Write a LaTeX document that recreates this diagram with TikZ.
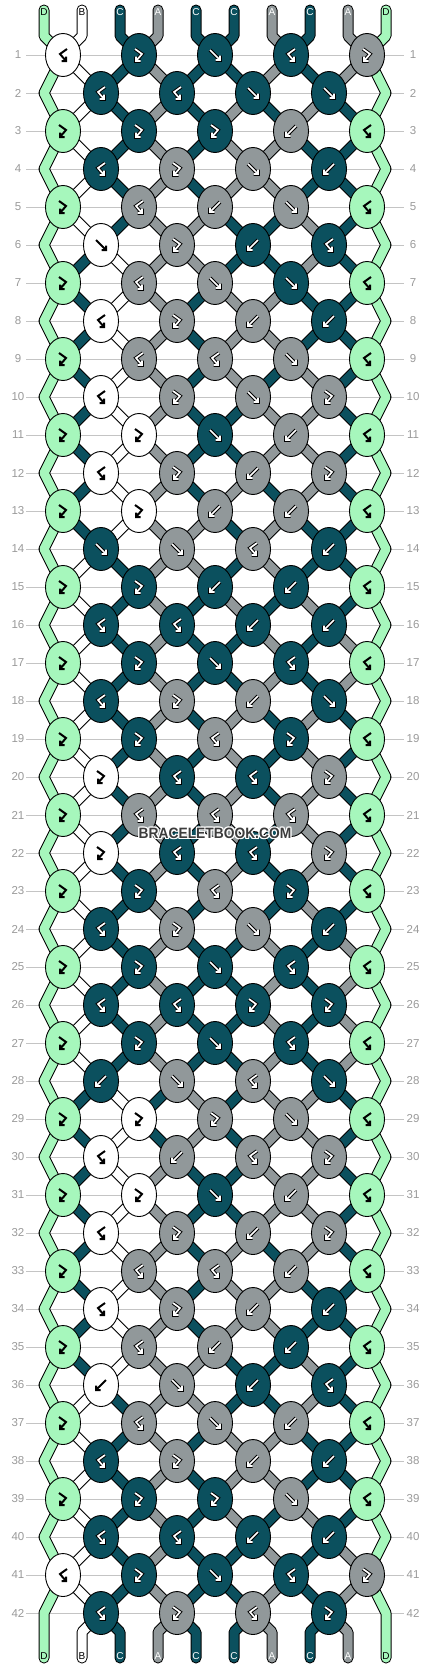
\documentclass[tikz,border=0pt]{standalone}
\usepackage{fontspec}
\setmainfont{Liberation Sans}
\usetikzlibrary{shapes.geometric}
\definecolor{cK}{HTML}{0B505E}
\definecolor{cA}{HTML}{91989A}
\definecolor{cG}{HTML}{A6F7BC}
\definecolor{cW}{HTML}{FFFFFF}
\definecolor{numgray}{HTML}{9A9A9A}
\definecolor{linegray}{HTML}{C4C4C4}
\definecolor{wmgray}{HTML}{3C3C3C}
\pgfdeclarelayer{bg}
\pgfdeclarelayer{mid}
\pgfsetlayers{bg,mid,main}
\def\rowdata{{B,F,f,B,F},{B,B,f,f},{F,F,F,b,B},{B,F,f,b},{F,B,b,f,B},{f,F,b,B},{F,B,f,f,B},{B,F,b,b},{F,B,B,f,B},{B,F,f,F},{F,F,f,b,B},{B,F,b,F},{F,F,b,b,B},{f,f,B,b},{F,F,b,b,B},{B,B,b,b},{F,F,f,B,B},{B,F,b,f},{F,F,B,F,B},{F,B,B,F},{F,B,B,B,B},{F,B,B,F},{F,F,B,F,B},{B,F,f,b},{F,F,f,B,B},{B,B,F,F},{F,F,f,B,B},{b,f,B,f},{F,F,F,f,B},{B,b,B,F},{F,F,f,b,B},{B,F,b,F},{F,B,B,b,B},{B,F,b,b},{F,B,b,b,B},{b,f,b,B},{F,B,f,b,B},{B,F,b,b},{F,F,F,f,B},{B,B,b,b},{B,F,f,B,F},{B,F,B,F}}
\def\initS{G,W,K,A,K,K,A,K,A,G}
\def\lettG{D}\def\lettW{B}\def\lettK{C}\def\lettA{A}
\def\txtG{black}\def\txtW{black}\def\txtK{white}\def\txtA{white}
\def\isdarkG{0}\def\isdarkW{0}\def\isdarkK{1}\def\isdarkA{1}
\tikzset{
 knot/.style={ellipse, draw=black, line width=0.9pt, minimum width=35pt, minimum height=43pt, inner sep=0pt},
 gout/.style={draw=black, line width=3.6pt, line cap=square, line join=miter},
 gin/.style={draw=white, line width=1.7pt, line cap=square, line join=miter},
 gblk/.style={draw=black, line width=2pt, line cap=butt, line join=miter},
 sout/.style={draw=black, line width=11pt, line cap=round, line join=round},
 sin/.style={line width=9pt, line cap=round, line join=round},
 hline/.style={draw=linegray, line width=1pt},
 num/.style={font=\fontsize{11.5}{12}\selectfont, text=numgray, inner sep=0pt},
 lbl/.style={font=\fontsize{10}{11}\selectfont, inner sep=0pt},
 wmstyle/.style={font=\bfseries\fontsize{15}{16}\selectfont, inner sep=0pt},
}
\newcommand\wmtext{\scalebox{0.92}[1]{BRACELETBOOK.COM}}
\newcommand\gpf[1]{\draw[#1] (-5,-5) -- (5,5) (0.5,5) -- (5,5) -- (5,0.5);}
\newcommand\gpb[1]{\draw[#1] (5,-5) -- (-5,5) (-0.5,5) -- (-5,5) -- (-5,0.5);}
\newcommand\gpF[1]{\draw[#1] (-4,-6) -- (3,-1) -- (-3,6) (-3,1.5) -- (-3,6) -- (1.5,6);}
\newcommand\gpB[1]{\draw[#1] (4,-6) -- (-3,-1) -- (3,6) (3,1.5) -- (3,6) -- (-1.5,6);}
\newcommand\drawglyph[4]{%
 \begin{scope}[shift={(#2,#3)}]
   \ifnum#4=1
     \csname gp#1\endcsname{gout}
     \csname gp#1\endcsname{gin}
   \else
     \csname gp#1\endcsname{gblk}
   \fi
 \end{scope}}
\begin{document}
\begin{tikzpicture}[x=1pt,y=-1pt]
\useasboundingbox (0,0) rectangle (430,1668);
\begin{pgfonlayer}{bg}
\fill[white] (0,0) rectangle (430,1668);
\end{pgfonlayer}
% initial state and end coordinates
\foreach \cc [count=\i from 0] in \initS {%
  \expandafter\xdef\csname S\i\endcsname{\cc}%
  \expandafter\xdef\csname st-0-\i\endcsname{\cc}%
  \pgfmathsetmacro\xx{44+38*\i}
  \coordinate (top-\i) at (\xx,10);
  \coordinate (tb-\i) at (\xx,36);
  \coordinate (bb-\i) at (\xx,1632);
  \coordinate (bot-\i) at (\xx,1658);
}
% simulate rows, draw knots
\foreach \rd [count=\rw] in \rowdata {
  \pgfmathtruncatemacro\off{mod(\rw+1,2)}
  \pgfmathsetmacro\yy{55+38*(\rw-1)}
  \foreach \ty [count=\k] in \rd {
    \pgfmathtruncatemacro\ii{\off+2*(\k-1)}
    \pgfmathtruncatemacro\jj{\ii+1}
    \pgfmathsetmacro\xx{63+38*\off+76*(\k-1)}
    \edef\lc{\csname S\ii\endcsname}
    \edef\rc{\csname S\jj\endcsname}
    \if f\ty \edef\kc{\lc}\fi
    \if F\ty \edef\kc{\lc}\fi
    \if b\ty \edef\kc{\rc}\fi
    \if B\ty \edef\kc{\rc}\fi
    \node[knot, fill=c\kc] (n-\rw-\k) at (\xx,\yy) {};
    \drawglyph{\ty}{\xx}{\yy}{\csname isdark\kc\endcsname}
    \if f\ty \expandafter\xdef\csname S\ii\endcsname{\rc}\expandafter\xdef\csname S\jj\endcsname{\lc}\fi
    \if b\ty \expandafter\xdef\csname S\ii\endcsname{\rc}\expandafter\xdef\csname S\jj\endcsname{\lc}\fi
  }
  \foreach \i in {0,...,9} {\expandafter\xdef\csname st-\rw-\i\endcsname{\csname S\i\endcsname}}
  \ifnum\off=1
    \pgfmathtruncatemacro\rp{\rw-1}
    \coordinate (eL-\rp) at (44,\yy);
    \coordinate (eR-\rp) at (386,\yy);
  \fi
  \node[num] (ln-\rw) at (18,\yy) {\rw};
  \node[num] (rn-\rw) at (413,\yy) {\rw};
  \begin{pgfonlayer}{bg}\draw[hline] (26,\yy) -- (404,\yy);\end{pgfonlayer}
}
% strings
\begin{pgfonlayer}{mid}
\draw[sout] (top-0) -- (tb-0) \foreach \rw in {1,3,...,41} {-- (n-\rw-1.center) -- (eL-\rw)} -- (bot-0);
\draw[sin, draw=cG] (top-0) -- (tb-0) \foreach \rw in {1,3,...,41} {-- (n-\rw-1.center) -- (eL-\rw)} -- (bot-0);
\draw[sout] (top-9) -- (tb-9) \foreach \rw in {1,3,...,41} {-- (n-\rw-5.center) -- (eR-\rw)} -- (bot-9);
\draw[sin, draw=cG] (top-9) -- (tb-9) \foreach \rw in {1,3,...,41} {-- (n-\rw-5.center) -- (eR-\rw)} -- (bot-9);
\foreach \i in {1,...,8} {
  \pgfmathtruncatemacro\kb{floor(\i/2)+1}
  \edef\sc{\csname st-0-\i\endcsname}
  \draw[sout] (top-\i) -- (tb-\i) -- (n-1-\kb.center);
  \draw[sin, draw=c\sc] (top-\i) -- (tb-\i) -- (n-1-\kb.center);
}
\foreach \rw in {2,...,42} {
  \pgfmathtruncatemacro\rp{\rw-1}
  \pgfmathtruncatemacro\offp{mod(\rp+1,2)}
  \pgfmathtruncatemacro\off{mod(\rw+1,2)}
  \foreach \i in {1,...,8} {
    \pgfmathtruncatemacro\ka{floor((\i-\offp)/2)+1}
    \pgfmathtruncatemacro\kb{floor((\i-\off)/2)+1}
    \edef\sc{\csname st-\rp-\i\endcsname}
    \draw[sout] (n-\rp-\ka.center) -- (n-\rw-\kb.center);
    \draw[sin, draw=c\sc] (n-\rp-\ka.center) -- (n-\rw-\kb.center);
  }
}
\foreach \i in {1,...,8} {
  \pgfmathtruncatemacro\ka{floor((\i-1)/2)+1}
  \edef\sc{\csname st-42-\i\endcsname}
  \draw[sout] (n-42-\ka.center) -- (bb-\i) -- (bot-\i);
  \draw[sin, draw=c\sc] (n-42-\ka.center) -- (bb-\i) -- (bot-\i);
}
\end{pgfonlayer}
% labels
\foreach \i in {0,...,9} {
  \edef\sc{\csname st-0-\i\endcsname}
  \edef\tc{\csname txt\sc\endcsname}
  \node[lbl, text=\tc, yshift=-2pt] (lt-\i) at (top-\i) {\csname lett\sc\endcsname};
  \edef\se{\csname st-42-\i\endcsname}
  \edef\te{\csname txt\se\endcsname}
  \node[lbl, text=\te, yshift=2pt] (lb-\i) at (bot-\i) {\csname lett\se\endcsname};
}
% watermark
\foreach \dx/\dy [count=\h] in {1/0,-1/0,0/1,0/-1,1/1,1/-1,-1/1,-1/-1} {
  \node[wmstyle, text=white] (wmh-\h) at (215+\dx,833+\dy) {\wmtext};
}
\node[wmstyle, text=wmgray] (wm) at (215,833) {\wmtext};
\end{tikzpicture}
\end{document}
